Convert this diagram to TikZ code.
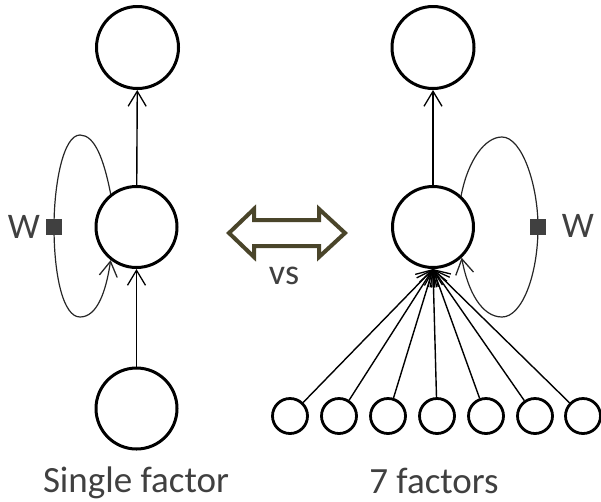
\documentclass[tikz,border=0pt]{standalone}
\usepackage{fontspec}
\setmainfont{Carlito}
\usetikzlibrary{arrows.meta}
\definecolor{txt}{HTML}{404040}
\definecolor{olivedark}{HTML}{4A452A}
\begin{document}
\begin{tikzpicture}[x=1pt,y=-1pt,
  bigunit/.style={circle,draw=black,line width=3pt,minimum size=81pt,inner sep=0pt},
  smallunit/.style={circle,draw=black,line width=2.8pt,minimum size=35pt,inner sep=0pt},
  tipV/.style={-{Straight Barb[length=15pt,width=18pt,line width=1.3pt]}},
  conn/.style={line width=1.4pt,tipV},
  loopline/.style={line width=1.2pt,draw=black!85,tipV},
  wbox/.style={fill=txt,minimum size=16pt,inner sep=0pt},
  lbl/.style={font=\fontsize{37}{40}\selectfont,text=txt,anchor=base,inner sep=0pt},
  wlbl/.style={font=\fontsize{36}{40}\selectfont,text=txt,anchor=base,inner sep=0pt}]
\useasboundingbox (0,0) rectangle (601,501);

% left column
\node[bigunit,minimum size=82pt] (t1) at (137.5,47.5) {};
\node[bigunit] (m1) at (136.5,227) {};
\node[bigunit] (b1) at (136.5,408.5) {};
\draw[conn] (b1) -- (m1);
\draw[conn] (m1) -- (t1);
\coordinate (wl) at (54,227);
\draw[loopline] (m1.128) .. controls (104,160) and (95,135) .. (80,135)
  .. controls (63,135) and (54,185) .. (wl)
  .. controls (54,275) and (63,317) .. (80,317)
  .. controls (97,317) and (106,292) .. (m1.232);
\node[wbox] (sqL) at (wl) {};
\node[wlbl] (wL) at (24,238) {W};

% right column
\node[bigunit,minimum size=82pt] (t2) at (433,47.5) {};
\node[bigunit] (m2) at (433,227) {};
\draw[conn] (m2) -- (t2);
\coordinate (wr) at (538,227);
\draw[loopline] (m2.48) .. controls (468,160) and (485,137) .. (502,137)
  .. controls (522,137) and (538,185) .. (wr)
  .. controls (538,275) and (522,317) .. (502,317)
  .. controls (482,317) and (468,292) .. (m2.313);
\node[wbox] (sqR) at (wr) {};
\node[wlbl] (wR) at (578,237) {W};

\foreach \i/\x in {1/290,2/339,3/388,4/437,5/486,6/535,7/583} {
  \node[smallunit] (s\i) at (\x,416) {};
  \draw[conn] (s\i) -- (m2.south);
}

% double arrow
\draw[olivedark,line width=4pt,line join=miter,fill=white]
  (229,233) -- (254,209) -- (254,220) -- (319,220) -- (319,209) -- (345,233)
  -- (319,257) -- (319,246) -- (254,246) -- (254,257) -- cycle;
\node[wlbl] (vs) at (284,284) {vs};

% captions
\node[lbl] (single) at (136,492) {Single factor};
\node[lbl] (seven) at (434,493) {7 factors};
\end{tikzpicture}
\end{document}
